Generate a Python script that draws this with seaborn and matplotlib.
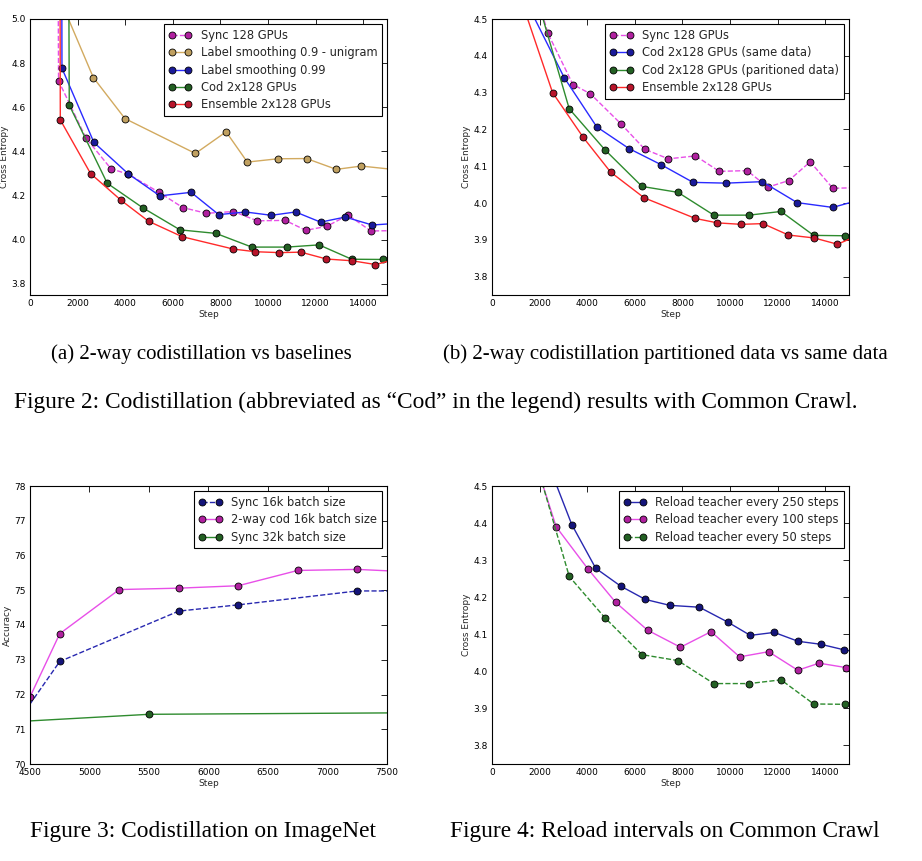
import seaborn as sns
import matplotlib.pyplot as plt

# --- data (hidden first/last points sit outside the axes) ---
sync_steps = [1150, 1200, 2350, 3400, 4130, 5420, 6420, 7410, 8550, 9550, 10720, 11590, 12470, 13370, 14320, 15600]
sync_ce = [6.0, 4.72, 4.461, 4.322, 4.297, 4.215, 4.146, 4.12, 4.128, 4.086, 4.088, 4.043, 4.061, 4.112, 4.04, 4.042]

unigram_steps = [1300, 2660, 3990, 6950, 8240, 9130, 10410, 11620, 12870, 13920, 15500]
unigram_ce = [5.08, 4.735, 4.549, 4.391, 4.489, 4.352, 4.367, 4.368, 4.319, 4.334, 4.316]

ls99_steps = [1320, 1343, 2685, 4126, 5455, 6769, 7930, 9049, 10140, 11160, 12210, 13245, 14380, 15500]
ls99_ce = [6.0, 4.777, 4.441, 4.299, 4.199, 4.215, 4.114, 4.126, 4.111, 4.126, 4.08, 4.103, 4.067, 4.075]

cod_steps = [1600, 1650, 3245, 4738, 6303, 7812, 9320, 10797, 12145, 13515, 14822, 16000]
cod_ce = [6.0, 4.61, 4.256, 4.145, 4.045, 4.029, 3.967, 3.967, 3.977, 3.912, 3.911, 3.911]

ens_steps = [1250, 1273, 2545, 3836, 4982, 6395, 8546, 9469, 10468, 11384, 12453, 13535, 14514, 15500]
ens_ce = [6.0, 4.543, 4.30, 4.178, 4.084, 4.014, 3.958, 3.946, 3.942, 3.944, 3.913, 3.905, 3.888, 3.915]

same_steps = [1300, 3031, 4399, 5754, 7109, 8450, 9846, 11355, 12822, 14316, 15600]
same_ce = [4.565, 4.341, 4.207, 4.148, 4.104, 4.056, 4.054, 4.058, 4.001, 3.988, 4.011]

sync16_steps = [4250, 4750, 5750, 6250, 7250, 7750]
sync16_acc = [70.5, 72.95, 74.4, 74.58, 74.98, 74.98]
cod16_steps = [4500, 4750, 5250, 5750, 6250, 6750, 7250, 7750]
cod16_acc = [71.93, 73.75, 75.02, 75.06, 75.13, 75.57, 75.6, 75.52]
sync32_steps = [3500, 5500, 9500]
sync32_acc = [71.05, 71.43, 71.51]

r250_steps = [2300, 3352, 4358, 5405, 6439, 7472, 8715, 9902, 10852, 11858, 12863, 13813, 14791, 15500]
r250_ce = [4.57, 4.396, 4.278, 4.230, 4.194, 4.178, 4.173, 4.133, 4.097, 4.105, 4.081, 4.073, 4.058, 4.05]
r100_steps = [1700, 2696, 4022, 5196, 6537, 7919, 9204, 10405, 11620, 12849, 13743, 14888, 15500]
r100_ce = [4.59, 4.39, 4.277, 4.186, 4.111, 4.065, 4.107, 4.039, 4.053, 4.003, 4.022, 4.010, 4.0]

ce_steps_ticks = [0, 2000, 4000, 6000, 8000, 10000, 12000, 14000]
in_steps_ticks = [4500, 5000, 5500, 6000, 6500, 7000, 7500]

# line colour, marker colour
MAG = ("#e84fe8", "#b0209f")
TAN = ("#d2aa60", "#c0a060")
BLUE = ("#2a2aff", "#1a1a9a")
NAVY = ("#2828b0", "#14147a")
GREEN = ("#2e8b2e", "#236023")
RED = ("#ff2a2a", "#b8142a")

sns.set_theme(style="white")
plt.rcParams["font.family"] = ["DejaVu Sans"]

fig = plt.figure(figsize=(9.22, 8.61), dpi=100)
W, H = 922, 861


def make_ax(left, top, right, bottom):
    return fig.add_axes([left / W, 1 - bottom / H, (right - left) / W, (bottom - top) / H])


def line(ax, x, y, col, label, ls="-"):
    sns.lineplot(x=x, y=y, ax=ax, color=col[0], linewidth=1, linestyle=ls,
                 marker="o", markersize=5, markerfacecolor=col[1],
                 markeredgecolor="black", markeredgewidth=0.6, label=label)


def style(ax, xlim, ylim, xticks, yticks, ylabel):
    ax.set_xlim(*xlim)
    ax.set_ylim(*ylim)
    ax.set_xticks(xticks)
    ax.set_yticks(yticks)
    ax.set_xlabel("Step", fontsize=6.5, labelpad=1)
    ax.set_ylabel(ylabel, fontsize=6.5, labelpad=2)
    ax.tick_params(direction="in", top=True, right=True, length=4, width=0.6,
                   labelsize=6.5, pad=3, colors="black")
    for s in ax.spines.values():
        s.set_color("black")
        s.set_linewidth(0.8)
    ax.legend(loc="upper right", fancybox=False, edgecolor="black", framealpha=1,
              numpoints=2, fontsize=8.3, borderaxespad=0.45, handlelength=2,
              labelspacing=0.38, borderpad=0.4)
    ax.get_legend().get_frame().set_linewidth(0.8)


ce_a = [3.8, 4.0, 4.2, 4.4, 4.6, 4.8, 5.0]
ce_b = [3.8, 3.9, 4.0, 4.1, 4.2, 4.3, 4.4, 4.5]

# (a)
ax = make_ax(30, 19, 387, 295)
line(ax, sync_steps, sync_ce, MAG, "Sync 128 GPUs", "--")
line(ax, unigram_steps, unigram_ce, TAN, "Label smoothing 0.9 - unigram")
line(ax, ls99_steps, ls99_ce, BLUE, "Label smoothing 0.99")
line(ax, cod_steps, cod_ce, GREEN, "Cod 2x128 GPUs")
line(ax, ens_steps, ens_ce, RED, "Ensemble 2x128 GPUs")
style(ax, (0, 15000), (3.75, 5.0), ce_steps_ticks, ce_a, "Cross Entropy")

# (b)
ax = make_ax(492, 19, 849, 295)
line(ax, sync_steps, sync_ce, MAG, "Sync 128 GPUs", "--")
line(ax, same_steps, same_ce, BLUE, "Cod 2x128 GPUs (same data)")
line(ax, cod_steps, cod_ce, GREEN, "Cod 2x128 GPUs (paritioned data)")
line(ax, ens_steps, ens_ce, RED, "Ensemble 2x128 GPUs")
style(ax, (0, 15000), (3.75, 4.5), ce_steps_ticks, ce_b, "Cross Entropy")

# Figure 3
ax = make_ax(30, 486, 387, 764)
line(ax, sync16_steps, sync16_acc, NAVY, "Sync 16k batch size", "--")
line(ax, cod16_steps, cod16_acc, MAG, "2-way cod 16k batch size")
line(ax, sync32_steps, sync32_acc, GREEN, "Sync 32k batch size")
style(ax, (4500, 7500), (70, 78), in_steps_ticks, list(range(70, 79)), "Accuracy")

# Figure 4
ax = make_ax(492, 486, 849, 764)
line(ax, r250_steps, r250_ce, NAVY, "Reload teacher every 250 steps")
line(ax, r100_steps, r100_ce, MAG, "Reload teacher every 100 steps")
line(ax, cod_steps, cod_ce, GREEN, "Reload teacher every 50 steps", "--")
style(ax, (0, 15000), (3.75, 4.5), ce_steps_ticks, ce_b, "Cross Entropy")

sub = dict(family="Liberation Serif", fontsize=15, color="black")
cap = dict(family="Liberation Serif", fontsize=16.8, color="black")
fig.text(201 / W, 1 - 354 / H, "(a) 2-way codistillation vs baselines", ha="center", va="center", **sub)
fig.text(665 / W, 1 - 354 / H, "(b) 2-way codistillation partitioned data vs same data", ha="center", va="center", **sub)
fig.text(14 / W, 1 - 402 / H, "Figure 2: Codistillation (abbreviated as \u201cCod\u201d in the legend) results with Common Crawl.",
         ha="left", va="center", **cap)
fig.text(203 / W, 1 - 832 / H, "Figure 3: Codistillation on ImageNet", ha="center", va="center", **cap)
fig.text(665 / W, 1 - 832 / H, "Figure 4: Reload intervals on Common Crawl", ha="center", va="center", **cap)

fig.savefig("out.png", dpi=100, facecolor="white")
